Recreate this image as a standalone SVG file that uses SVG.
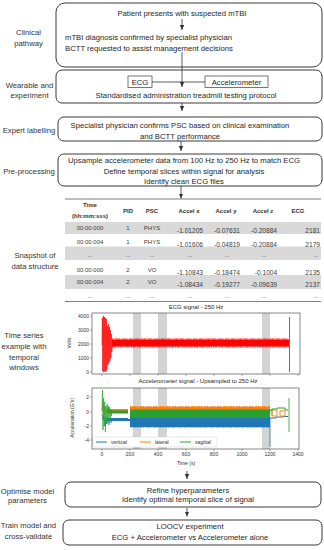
<svg xmlns="http://www.w3.org/2000/svg" width="324" height="550" viewBox="0 0 324 550">
<style>
text{font-family:"Liberation Sans",Arial,sans-serif;fill:#262626}
.t{font-size:7.7px}
.c{text-anchor:middle}
.lbl{font-size:7.7px;text-anchor:middle;fill:#333}
.box{fill:#fff;stroke:#3a3a3a;stroke-width:1}
.tb{font-size:6px;text-anchor:middle;fill:#404040}
.th{font-size:6px;text-anchor:middle;font-weight:bold;fill:#333}
.tv{font-size:6.6px;text-anchor:middle;fill:#404040}
.tr{font-size:6.6px;text-anchor:end;fill:#404040}
.grow{fill:#d9d9d9}
.tk{font-size:5px;fill:#333}
.frame{fill:none;stroke:#555;stroke-width:0.7}
.band{fill:#d3d3d3}
.tick{stroke:#555;stroke-width:0.5}
.con{stroke:#333;stroke-width:0.8;fill:none}
</style>
<defs>
<marker id="ah" markerWidth="6" markerHeight="6" refX="5" refY="3" orient="auto" markerUnits="userSpaceOnUse">
<path d="M0,0.8 L5,3 L0,5.2 Z" fill="#333"/>
</marker>
</defs>

<!-- left labels -->
<g id="labels">
<text class="lbl" x="28.5" y="35">Clinical</text>
<text class="lbl" x="28.5" y="46">pathway</text>
<text class="lbl" x="29.5" y="88">Wearable and</text>
<text class="lbl" x="29.5" y="98">experiment</text>
<text class="lbl" x="29" y="133">Expert labelling</text>
<text class="lbl" x="29" y="174">Pre-processing</text>
<text class="lbl" x="35" y="258">Snapshot of</text>
<text class="lbl" x="35" y="269">data structure</text>
<text class="lbl" x="24" y="338">Time series</text>
<text class="lbl" x="24" y="349">example with</text>
<text class="lbl" x="24" y="360">temporal</text>
<text class="lbl" x="24" y="370">windows</text>
<text class="lbl" x="27.5" y="494">Optimise model</text>
<text class="lbl" x="27.5" y="503">parameters</text>
<text class="lbl" x="28.5" y="528">Train model and</text>
<text class="lbl" x="28.5" y="539">cross-validate</text>
</g>

<g id="clinical">
<rect class="box" x="56" y="3" width="266" height="64" rx="9"/>
<text class="t c" x="182" y="16">Patient presents with suspected mTBI</text>
<text class="t" x="65" y="40">mTBI diagnosis confirmed by specialist physician</text>
<text class="t" x="65" y="50.5">BCTT requested to assist management decisions</text>
</g>

<g id="wearable">
<rect class="box" x="56" y="70" width="266" height="33" rx="6"/>
<text class="t c" x="186" y="98">Standardised administration treadmill testing protocol</text>
</g>
<g id="ecg">
<rect x="128" y="76" width="24" height="11.5" fill="#fff" stroke="#555" stroke-width="0.8"/>
<text class="t c" x="140" y="84.5">ECG</text>
</g>
<g id="accelerometer">
<rect x="205" y="76" width="63" height="11.5" fill="#fff" stroke="#555" stroke-width="0.8"/>
<text class="t c" x="236.5" y="84.5">Accelerometer</text>
</g>

<g id="expert">
<rect class="box" x="58" y="117" width="264" height="24" rx="6"/>
<text class="t c" x="180" y="128">Specialist physician confirms PSC based on clinical examination</text>
<text class="t c" x="180" y="139">and BCTT performance</text>
</g>

<g id="preprocessing">
<rect class="box" x="58" y="154" width="264" height="32" rx="6"/>
<text class="t c" x="184" y="163">Upsample accelerometer data from 100 Hz to 250 Hz to match ECG</text>
<text class="t c" x="184" y="173.5">Define temporal slices within signal for analysis</text>
<text class="t c" x="184" y="184">Identify clean ECG files</text>
</g>

<g id="table">
<rect class="grow" x="65" y="222" width="256" height="12"/>
<rect class="grow" x="65" y="246.5" width="256" height="13.5"/>
<rect class="grow" x="65" y="275" width="256" height="14"/>
<line x1="65" y1="199" x2="321" y2="199" stroke="#7f7f7f" stroke-width="1"/>
<line x1="65" y1="301.5" x2="321" y2="301.5" stroke="#7f7f7f" stroke-width="1"/>
<text class="th" x="90" y="207">Time</text>
<text class="th" x="90" y="218">(hh:mm:sss)</text>
<text class="th" x="128" y="213">PID</text>
<text class="th" x="152" y="213">PSC</text>
<text class="th" x="189" y="213">Accel x</text>
<text class="th" x="226" y="213">Accel y</text>
<text class="th" x="263" y="213">Accel z</text>
<text class="th" x="298" y="213">ECG</text>

<text class="tb" x="90" y="230">00:00:000</text><text class="tb" x="128" y="230">1</text><text class="tb" x="152" y="230">PHYS</text>
<text class="tv" x="190" y="233">-1.01205</text><text class="tv" x="227" y="233">-0.07631</text><text class="tv" x="264" y="233">-0.20884</text><text class="tr" x="320" y="233">2181</text>

<text class="tb" x="90" y="244">00:00:004</text><text class="tb" x="128" y="244">1</text><text class="tb" x="152" y="244">PHYS</text>
<text class="tv" x="190" y="246.5">-1.01606</text><text class="tv" x="227" y="246.5">-0.04819</text><text class="tv" x="264" y="246.5">-0.20884</text><text class="tr" x="320" y="246.5">2179</text>

<text class="tb" x="90" y="257">...</text><text class="tb" x="128" y="257">...</text><text class="tb" x="152" y="257">...</text>
<text class="tb" x="190" y="257">...</text><text class="tb" x="227" y="257">...</text><text class="tb" x="264" y="257">...</text><text class="tb" x="316" y="257">...</text>

<text class="tb" x="90" y="272">00:00:000</text><text class="tb" x="128" y="272">2</text><text class="tb" x="152" y="272">VO</text>
<text class="tv" x="190" y="274.5">-1.10843</text><text class="tv" x="227" y="274.5">-0.18474</text><text class="tv" x="266" y="274.5">-0.1004</text><text class="tr" x="320" y="274.5">2135</text>

<text class="tb" x="90" y="284">00:00:004</text><text class="tb" x="128" y="284">2</text><text class="tb" x="152" y="284">VO</text>
<text class="tv" x="190" y="286.5">-1.08434</text><text class="tv" x="227" y="286.5">-0.19277</text><text class="tv" x="264" y="286.5">-0.09639</text><text class="tr" x="320" y="286.5">2137</text>

<text class="tb" x="90" y="298">...</text><text class="tb" x="128" y="298">...</text><text class="tb" x="152" y="298">...</text>
<text class="tb" x="190" y="298">...</text><text class="tb" x="227" y="298">...</text><text class="tb" x="264" y="298">...</text><text class="tb" x="316" y="298">...</text>
</g>

<!-- ECG plot -->
<g id="ecg-plot">
<text class="c" x="196" y="309" style="font-size:6px">ECG signal - 250 Hz</text>
<rect class="band" x="133" y="313" width="8" height="61"/>
<rect class="band" x="158" y="313" width="9" height="61"/>
<rect class="band" x="262" y="313" width="8" height="61"/>
<rect x="112" y="339.5" width="177" height="7" fill="#ff0000"/>
<line x1="112" y1="339" x2="289" y2="339" stroke="#ff0000" stroke-width="1.2" stroke-dasharray="1.5 0.6 0.8 1 2 0.5"/>
<line x1="112" y1="347" x2="289" y2="347" stroke="#ff0000" stroke-width="1.2" stroke-dasharray="1.2 0.8 2 0.6 0.7 1"/>
<polyline fill="none" stroke="#ff0000" stroke-width="0.7" points="102,345 102.4,318 102.8,371 103.3,316 103.8,372 104.3,317 104.8,371 105.3,318 105.8,372 106.3,319 106.8,370 107.3,326 107.8,365 108.3,324 108.8,363 109.3,327 109.8,361 110.3,330 110.8,358 111.3,334 111.8,352 112.3,340"/>
<line x1="289.5" y1="317" x2="289.5" y2="372" stroke="#ff0000" stroke-width="0.8"/>
<rect class="frame" x="92" y="313" width="208" height="61"/>
<g class="tick">
<line x1="90" y1="316" x2="92" y2="316"/><line x1="90" y1="330" x2="92" y2="330"/><line x1="90" y1="344" x2="92" y2="344"/><line x1="90" y1="358" x2="92" y2="358"/><line x1="90" y1="372" x2="92" y2="372"/>
<line x1="102" y1="374" x2="102" y2="376"/><line x1="130" y1="374" x2="130" y2="376"/><line x1="158" y1="374" x2="158" y2="376"/><line x1="186" y1="374" x2="186" y2="376"/><line x1="214" y1="374" x2="214" y2="376"/><line x1="242" y1="374" x2="242" y2="376"/><line x1="270" y1="374" x2="270" y2="376"/><line x1="298" y1="374" x2="298" y2="376"/>
</g>
<text class="tk" x="89" y="318" text-anchor="end">4000</text>
<text class="tk" x="89" y="332" text-anchor="end">3000</text>
<text class="tk" x="89" y="346" text-anchor="end">2000</text>
<text class="tk" x="89" y="360" text-anchor="end">1000</text>
<text class="tk" x="89" y="374" text-anchor="end">0</text>
<text class="tk" x="0" y="0" text-anchor="middle" transform="translate(71,343) rotate(-90)">Volts</text>
</g>

<!-- Accelerometer plot -->
<g id="accel-plot">
<text class="c" x="198" y="383" style="font-size:6px">Accelerometer signal - Upsampled to 250 Hz</text>
<rect class="band" x="133" y="388" width="8" height="61"/>
<rect class="band" x="158" y="388" width="9" height="61"/>
<rect class="band" x="262" y="388" width="8" height="61"/>
<!-- blue -->
<rect x="130" y="418" width="140" height="9" fill="#1f77b4"/>
<line x1="130" y1="427" x2="270" y2="427" stroke="#1f77b4" stroke-width="1.2" stroke-dasharray="1.4 0.6 0.8 1 2 0.5"/>
<polyline fill="none" stroke="#1f77b4" stroke-width="0.7" points="102,414 103,420 104,416 105,426 106,417 107,424 108,418 109,425 110,419 111,423 112,419"/>
<rect x="107" y="418" width="21" height="3" fill="#1f77b4"/>
<line x1="128" y1="420" x2="130" y2="420" stroke="#1f77b4" stroke-width="2"/>
<line x1="270" y1="418" x2="270" y2="447" stroke="#1f77b4" stroke-width="0.8"/>
<polyline fill="none" stroke="#1f77b4" stroke-width="1" points="270,418 276,418 276,417 283,417 283,416.5 288,416.5"/>
<!-- orange -->
<rect x="130" y="407" width="140" height="8" fill="#ff7f0e"/>
<line x1="130" y1="406.5" x2="270" y2="406.5" stroke="#ff7f0e" stroke-width="1.2" stroke-dasharray="1.5 0.6 0.7 1 2 0.6"/>
<rect x="107" y="409" width="21" height="3.5" fill="#ff7f0e"/>
<polyline fill="none" stroke="#ff7f0e" stroke-width="0.7" points="102,410 103,404 104,416 105,406 106,414 107,408 108,413 109,409"/>
<rect x="272" y="410" width="5" height="6" fill="#fff" stroke="#ff7f0e" stroke-width="0.9"/>
<rect x="280" y="411" width="5" height="5" fill="#fff" stroke="#ff7f0e" stroke-width="0.9"/>
<!-- green -->
<rect x="130" y="409.5" width="140" height="8.5" fill="#2ca02c"/>
<rect x="107" y="410.5" width="21" height="3" fill="#2ca02c"/>
<polyline fill="none" stroke="#2ca02c" stroke-width="0.7" points="102,412 102.5,390 103,430 103.6,398 104.2,426 104.8,402 105.4,432 106,406 106.6,424 107.2,404 107.8,422 108.4,406 109,420 109.6,407 110.2,418 110.8,409 111.4,416 112,410"/>
<polyline fill="none" stroke="#2ca02c" stroke-width="1" points="270,411 272,409 277,409 277,408 285,408 285,410 288,410"/>
<line x1="272" y1="409" x2="272" y2="416" stroke="#2ca02c" stroke-width="0.7"/>
<line x1="289" y1="398" x2="289" y2="432" stroke="#2ca02c" stroke-width="0.8"/>
<!-- legend -->
<rect x="93" y="437" width="124" height="10" rx="1.5" fill="#fff" stroke="#ccc" stroke-width="0.5"/>
<line x1="96" y1="442" x2="107" y2="442" stroke="#1f77b4" stroke-width="1"/>
<text class="tk" x="111" y="444">vertical</text>
<line x1="140" y1="442" x2="151" y2="442" stroke="#ff7f0e" stroke-width="1"/>
<text class="tk" x="155" y="444">lateral</text>
<line x1="180" y1="442" x2="191" y2="442" stroke="#2ca02c" stroke-width="1"/>
<text class="tk" x="195" y="444">sagittal</text>
<rect class="frame" x="92" y="388" width="207" height="61"/>
<g class="tick">
<line x1="90" y1="397" x2="92" y2="397"/><line x1="90" y1="412" x2="92" y2="412"/><line x1="90" y1="426" x2="92" y2="426"/><line x1="90" y1="440" x2="92" y2="440"/>
<line x1="102" y1="449" x2="102" y2="451"/><line x1="130" y1="449" x2="130" y2="451"/><line x1="158" y1="449" x2="158" y2="451"/><line x1="186" y1="449" x2="186" y2="451"/><line x1="214" y1="449" x2="214" y2="451"/><line x1="242" y1="449" x2="242" y2="451"/><line x1="270" y1="449" x2="270" y2="451"/><line x1="298" y1="449" x2="298" y2="451"/>
</g>
<text class="tk" x="89" y="399" text-anchor="end">2</text>
<text class="tk" x="89" y="414" text-anchor="end">0</text>
<text class="tk" x="89" y="428" text-anchor="end">-2</text>
<text class="tk" x="89" y="442" text-anchor="end">-4</text>
<g text-anchor="middle">
<text class="tk" x="102" y="456">0</text><text class="tk" x="130" y="456">200</text><text class="tk" x="158" y="456">400</text><text class="tk" x="186" y="456">600</text><text class="tk" x="214" y="456">800</text><text class="tk" x="242" y="456">1000</text><text class="tk" x="270" y="456">1200</text><text class="tk" x="298" y="456">1400</text>
<text class="tk" x="186" y="465">Time (s)</text>
</g>
<text class="tk" x="0" y="0" text-anchor="middle" transform="translate(74,418) rotate(-90)">Acceleration (G's)</text>
</g>

<g id="optimise">
<rect class="box" x="65" y="482" width="256" height="25" rx="6"/>
<text class="t c" x="188" y="492.5">Refine hyperparameters</text>
<text class="t c" x="188" y="501.5">Identify optimal temporal slice of signal</text>
</g>

<g id="train">
<rect class="box" x="63" y="520" width="259" height="25" rx="6"/>
<text class="t c" x="190" y="529">LOOCV experiment</text>
<text class="t c" x="190" y="539.5">ECG + Accelerometer vs Accelerometer alone</text>
</g>

<g id="connectors">
<line class="con" x1="182" y1="19" x2="182" y2="30" marker-end="url(#ah)"/>
<line class="con" x1="182" y1="52" x2="182" y2="87" marker-end="url(#ah)"/>
<line class="con" x1="152" y1="82" x2="205" y2="82"/>
<line class="con" x1="182" y1="103" x2="182" y2="111" marker-end="url(#ah)"/>
<line class="con" x1="181" y1="141" x2="181" y2="151" marker-end="url(#ah)"/>
<line class="con" x1="181" y1="186" x2="181" y2="198.5" marker-end="url(#ah)"/>
<line class="con" x1="187" y1="471" x2="187" y2="479" marker-end="url(#ah)"/>
<line class="con" x1="187" y1="508" x2="187" y2="516.5" marker-end="url(#ah)"/>
</g>
</svg>
